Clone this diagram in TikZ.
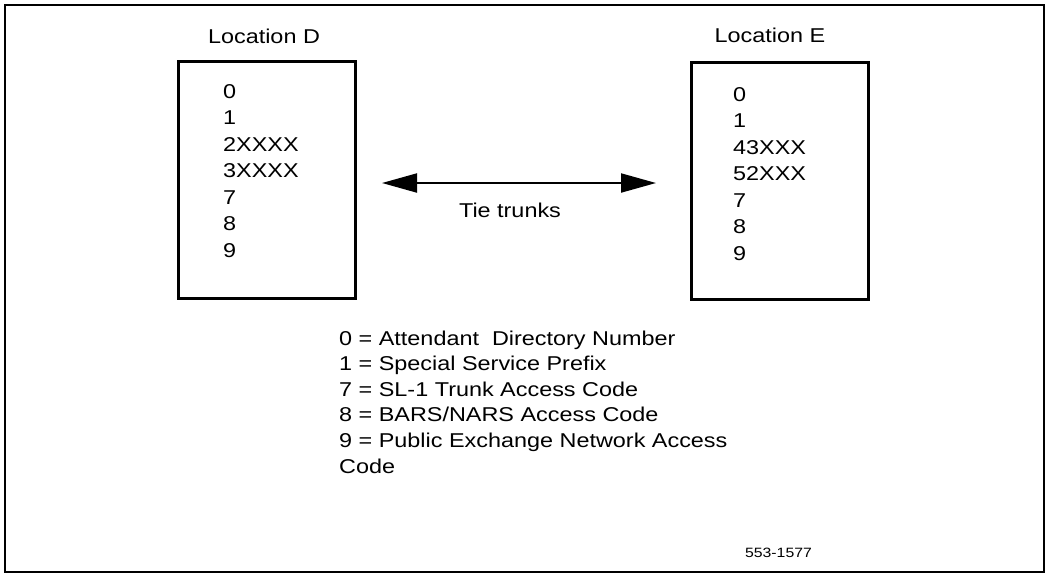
\documentclass[tikz,border=0pt]{standalone}
\usepackage{fontspec}
\setmainfont{Liberation Sans}[FakeStretch=1.17]
\usepackage{tikz}
\usetikzlibrary{positioning,arrows.meta}

\tikzset{
    site/.style={draw, line width=3pt, minimum width=177pt, minimum height=237pt, inner sep=0pt},
    entry/.style={anchor=base west, inner sep=0pt, font=\fontsize{20}{24}\selectfont},
    caption/.style={anchor=base, inner sep=0pt, font=\fontsize{20}{24}\selectfont}
}

\begin{document}
\begin{tikzpicture}[x=1pt,y=-1pt]
\useasboundingbox (0,0) rectangle (1048,574);
\draw[line width=2pt] (5,5) rectangle (1044,572);

% the two sites
\node[site] (boxD) at (266.5,179.5) {};
\node[site] (boxE) at (779.5,181) {};
\node[caption] (labD) at (264,43) {Location D};
\node[caption] (labE) at (770,42) {Location E};

\foreach \code [count=\i] in {0,1,2XXXX,3XXXX,7,8,9} {
    \node[entry] (d\i) at (223,{98+26.5*(\i-1)}) {\code};
}
\foreach \code [count=\i] in {0,1,43XXX,52XXX,7,8,9} {
    \node[entry] (e\i) at (733,{101+26.5*(\i-1)}) {\code};
}

% trunks between them
\coordinate (tieL) at (382,183);
\coordinate (tieR) at (656,183);
\draw[line width=2pt, {Triangle[length=35pt,width=19pt]}-{Triangle[length=35pt,width=19pt]}] (tieL) -- (tieR);
\node[caption] (tie) at (510,217) {Tie trunks};

% legend
\foreach \line [count=\i] in {0 = Attendant\ \ Directory Number, 1 = Special Service Prefix,
    7 = SL-1 Trunk Access Code, 8 = BARS/NARS Access Code,
    9 = Public Exchange Network Access, Code} {
    \node[entry] (key\i) at (339,{345+25.6*(\i-1)}) {\line};
}

\node[anchor=base, inner sep=0pt, font=\fontsize{13.5}{16}\selectfont] (fig) at (778.5,557) {553-1577};
\end{tikzpicture}
\end{document}
